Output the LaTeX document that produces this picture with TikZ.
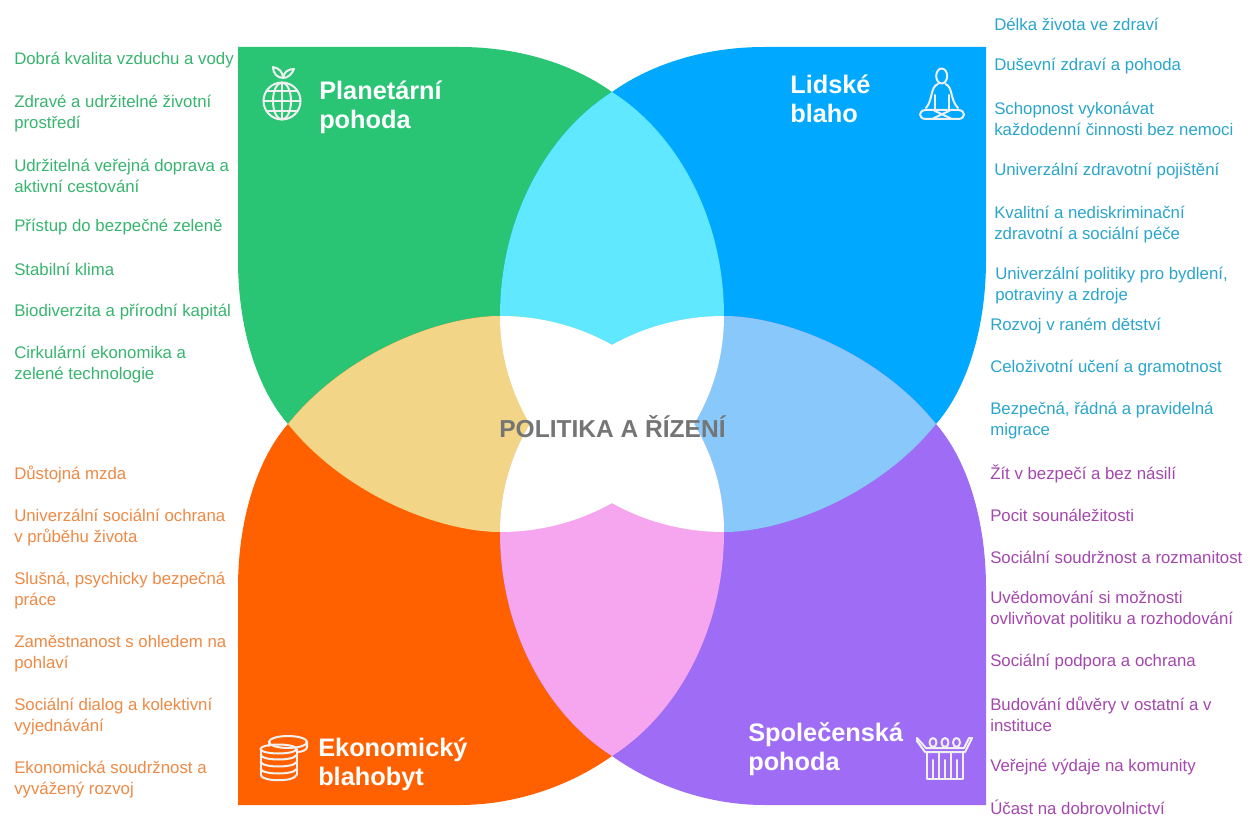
\documentclass[tikz,border=0pt]{standalone}
\usepackage{fontspec}
\setmainfont{Liberation Sans}
\definecolor{planetfill}{HTML}{29C575}
\definecolor{humanfill}{HTML}{00A8FF}
\definecolor{econfill}{HTML}{FF6100}
\definecolor{socialfill}{HTML}{9E6CF5}
\definecolor{cyanlens}{HTML}{5FE8FF}
\definecolor{peachlens}{HTML}{F2D587}
\definecolor{skylens}{HTML}{88C8FA}
\definecolor{pinklens}{HTML}{F5A6EE}
\definecolor{planettext}{HTML}{37B56E}
\definecolor{humantext}{HTML}{2AA6CC}
\definecolor{econtext}{HTML}{EE8A45}
\definecolor{socialtext}{HTML}{A447AE}
\tikzset{
	itemtext/.style={anchor=west, inner sep=0pt, align=left, font=\fontsize{12.6}{15.75}\selectfont},
	headtext/.style={anchor=west, inner sep=0pt, align=left, text=white, font=\fontsize{19}{21.7}\selectfont\bfseries},
	icon/.style={draw=white!94!black, line width=1.5pt, line join=round, line cap=round},
	mirrorx/.style={shift={(1224,0)}, xscale=-1},
	mirrory/.style={shift={(0,848)}, yscale=-1},
	mirrorxy/.style={shift={(1224,848)}, xscale=-1, yscale=-1}
}
\def\petal#1{(238,#1) -- (460,#1) .. controls (515,#1) and (570,62) .. (612,92)
	.. controls (675,132) and (724,215) .. (724,316)
	.. controls (724,436) and (623,532) .. (500,532)
	.. controls (440,532) and (345,495) .. (288,424)
	.. controls (258,390) and (238,330) .. (238,260) -- cycle}
\def\petalG{\petal{47}}
\def\petalB{[mirrorx]\petal{47}}
\def\petalE{[mirrory]\petal{43}}
\def\petalS{[mirrorxy]\petal{43}}
\newcommand{\lens}[3]{\begin{scope}\clip #1; \fill[#3] #2; \end{scope}}
\newcommand{\core}[3]{\begin{scope}\clip #1; \clip #2; \fill[white] #3; \end{scope}}

\begin{document}
\begin{tikzpicture}[x=0.75pt, y=-0.75pt]
	%%%%% START %%%%%
	\useasboundingbox (0,0) rectangle (1250,816);
	\fill[white] (0,0) rectangle (1250,816);

	\fill[planetfill] \petalG;
	\fill[humanfill] \petalB;
	\fill[econfill] \petalE;
	\fill[socialfill] \petalS;

	\lens{\petalG}{\petalB}{cyanlens}
	\lens{\petalG}{\petalE}{peachlens}
	\lens{\petalB}{\petalS}{skylens}
	\lens{\petalE}{\petalS}{pinklens}

	\core{\petalG}{\petalB}{\petalE}
	\core{\petalG}{\petalB}{\petalS}
	\core{\petalG}{\petalE}{\petalS}
	\core{\petalB}{\petalE}{\petalS}

	\node[inner sep=0pt, text=black!54, font=\fontsize{18.4}{21}\selectfont\bfseries] (center) at (612.5,427) {POLITIKA A ŘÍZENÍ};

	\node[headtext] (planet) at (319,107) {Planetární\\pohoda};
	\node[headtext] (human) at (790,99) {Lidské\\blaho};
	\node[headtext] (econ) at (318,764) {Ekonomický\\blahobyt};
	\node[headtext] (social) at (748,749) {Společenská\\pohoda};

	%%%%% globe
	\draw[icon] (282,101) circle (18.5);
	\draw[icon] (282,101) ellipse (9 and 18.5);
	\draw[icon] (282,82.5) -- (282,119.5);
	\draw[icon] (263.5,101) -- (300.5,101);
	\draw[icon] (267,91) -- (297,91);
	\draw[icon] (267,111) -- (297,111);
	\draw[icon] (283,78) .. controls (277,78) and (273,73) .. (273,67) .. controls (279,68) and (283,72) .. (283,78);
	\draw[icon] (283,78) .. controls (288,78) and (292,74) .. (294,69) .. controls (288,69) and (284,72) .. (283,78);

	%%%%% sitting figure
	\draw[icon] (941.7,76) ellipse (5.5 and 7.5);
	\draw[icon] (938,84) .. controls (930,87) and (933,100) .. (926,108);
	\draw[icon] (945.5,84) .. controls (953,87) and (950,100) .. (958,108);
	\draw[icon] (934.5,95) -- (934.5,109);
	\draw[icon] (948.5,95) -- (948.5,109);
	\draw[icon] (926,110) -- (958,110) .. controls (966,110) and (966,119) .. (958,119) -- (926,119) .. controls (918,119) and (918,110) .. (926,110);
	\draw[icon] (934,110.5) -- (951,118.5);
	\draw[icon] (950,110.5) -- (933,118.5);

	%%%%% coins
	\draw[icon] (288,742) ellipse (19 and 6);
	\draw[icon] (307,742) -- (307,747) .. controls (307,750) and (302,752) .. (297,752);
	\draw[icon] (269,742) -- (269,746);
	\draw[icon] (278.5,749) ellipse (18 and 4.5);
	\draw[icon] (260.5,749) -- (260.5,775);
	\draw[icon] (296.5,749) -- (296.5,775);
	\draw[icon] (260.5,755) .. controls (263,761) and (294,761) .. (296.5,755);
	\draw[icon] (260.5,762) .. controls (263,768) and (294,768) .. (296.5,762);
	\draw[icon] (260.5,769) .. controls (263,775) and (294,775) .. (296.5,769);
	\draw[icon] (260.5,775) .. controls (263,782) and (294,782) .. (296.5,775);

	%%%%% group of people
	\draw[icon] (933,742.5) ellipse (3.5 and 4.5);
	\draw[icon] (945,742.5) ellipse (3.5 and 4.5);
	\draw[icon] (956.5,742.5) ellipse (3.5 and 4.5);
	\draw[icon] (917,738) -- (926,748) -- (964,748) -- (969,738);
	\draw[icon] (917,741) -- (925,752) -- (965,752) -- (972,738);
	\draw[icon] (917,738) -- (917,741);
	\draw[icon] (969,738) -- (972,738);
	\draw[icon] (927,752) -- (927,779) -- (963,779) -- (963,752);
	\draw[icon] (939,752) -- (939,779);
	\draw[icon] (951,752) -- (951,779);
	\draw[icon] (933,760) -- (933,779);
	\draw[icon] (945,760) -- (945,779);
	\draw[icon] (957,760) -- (957,779);

	%%%%% planet list
	\node[itemtext, text=planettext] (p1) at (14,60.5) {Dobrá kvalita vzduchu a vody};
	\node[itemtext, text=planettext] (p2) at (14,113.5) {Zdravé a udržitelné životní\\prostředí};
	\node[itemtext, text=planettext] (p3) at (14,175.5) {Udržitelná veřejná doprava a\\aktivní cestování};
	\node[itemtext, text=planettext] (p4) at (14,227.5) {Přístup do bezpečné zeleně};
	\node[itemtext, text=planettext] (p5) at (14,269.5) {Stabilní klima};
	\node[itemtext, text=planettext] (p6) at (14,312.5) {Biodiverzita a přírodní kapitál};
	\node[itemtext, text=planettext] (p7) at (14,364.5) {Cirkulární ekonomika a\\zelené technologie};

	%%%%% economy list
	\node[itemtext, text=econtext] (e1) at (14,474.5) {Důstojná mzda};
	\node[itemtext, text=econtext] (e2) at (14,527.5) {Univerzální sociální ochrana\\v průběhu života};
	\node[itemtext, text=econtext] (e3) at (14,590.5) {Slušná, psychicky bezpečná\\práce};
	\node[itemtext, text=econtext] (e4) at (14,653.5) {Zaměstnanost s ohledem na\\pohlaví};
	\node[itemtext, text=econtext] (e5) at (14,716.5) {Sociální dialog a kolektivní\\vyjednávání};
	\node[itemtext, text=econtext] (e6) at (14,779.5) {Ekonomická soudržnost a\\vyvážený rozvoj};

	%%%%% human list
	\node[itemtext, text=humantext] (h1) at (994,24.5) {Délka života ve zdraví};
	\node[itemtext, text=humantext] (h2) at (994,66.5) {Duševní zdraví a pohoda};
	\node[itemtext, text=humantext] (h3) at (994,118.5) {Schopnost vykonávat\\každodenní činnosti bez nemoci};
	\node[itemtext, text=humantext] (h4) at (994,171.5) {Univerzální zdravotní pojištění};
	\node[itemtext, text=humantext] (h5) at (994,224.5) {Kvalitní a nediskriminační\\zdravotní a sociální péče};
	\node[itemtext, text=humantext] (h6) at (995,285.5) {Univerzální politiky pro bydlení,\\potraviny a zdroje};
	\node[itemtext, text=humantext] (h7) at (990,326.5) {Rozvoj v raném dětství};
	\node[itemtext, text=humantext] (h8) at (990,368.5) {Celoživotní učení a gramotnost};
	\node[itemtext, text=humantext] (h9) at (990,420.5) {Bezpečná, řádná a pravidelná\\migrace};

	%%%%% social list
	\node[itemtext, text=socialtext] (s1) at (990,473.5) {Žít v bezpečí a bez násilí};
	\node[itemtext, text=socialtext] (s2) at (990,515.5) {Pocit sounáležitosti};
	\node[itemtext, text=socialtext] (s3) at (990,557.5) {Sociální soudržnost a rozmanitost};
	\node[itemtext, text=socialtext] (s4) at (990,609.5) {Uvědomování si možnosti\\ovlivňovat politiku a rozhodování};
	\node[itemtext, text=socialtext] (s5) at (990,662.5) {Sociální podpora a ochrana};
	\node[itemtext, text=socialtext] (s6) at (990,714.5) {Budování důvěry v ostatní a v\\instituce};
	\node[itemtext, text=socialtext] (s7) at (990,767.5) {Veřejné výdaje na komunity};
	\node[itemtext, text=socialtext] (s8) at (990,807.5) {Účast na dobrovolnictví};
	%%%%% END %%%%%
\end{tikzpicture}
\end{document}
